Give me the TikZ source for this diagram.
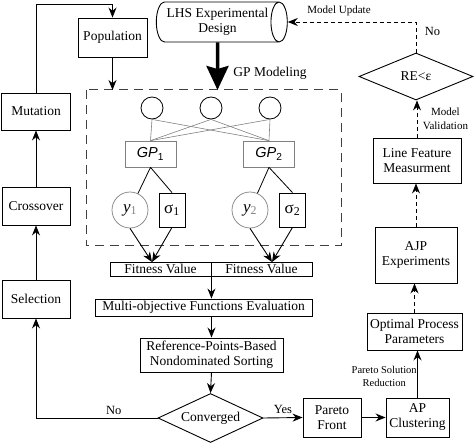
\documentclass[tikz,border=0pt]{standalone}
\usepackage{fontspec}
\setmainfont{Liberation Serif}
\setsansfont{Liberation Sans}
\usetikzlibrary{shapes.geometric, positioning, arrows.meta}

\begin{document}
\begin{tikzpicture}[x=1pt,y=-1pt,
    box/.style={draw,line width=0.9pt,align=center,inner sep=0pt,font=\fontsize{13.5}{15}\selectfont},
    gpbox/.style={draw=gray,line width=0.7pt,inner sep=0pt,minimum width=51,minimum height=26,font=\fontsize{14.5}{15}\selectfont},
    ycirc/.style={circle,draw=gray,line width=0.7pt,inner sep=0pt,minimum size=36,font=\fontsize{17}{17}\selectfont},
    sbox/.style={draw,line width=0.8pt,inner sep=0pt,minimum width=26,minimum height=34,font=\fontsize{17}{17}\selectfont},
    incirc/.style={circle,draw,line width=0.8pt,inner sep=0pt,minimum size=22},
    decide/.style={diamond,draw,line width=0.9pt,inner sep=0pt,aspect=2.2,font=\fontsize{13.5}{15}\selectfont},
    small/.style={font=\fontsize{11}{14}\selectfont,align=center},
    arr/.style={-{Stealth[length=10pt,width=8pt]},line width=0.9pt},
    dasharr/.style={-{Stealth[length=10pt,width=8pt]},line width=0.9pt,dash pattern=on 4pt off 3pt}]
  \useasboundingbox (0,0) rectangle (475,444);
  % left loop of the genetic algorithm
  \node[box,minimum width=69,minimum height=37] (mut) at (36,111.5) {Mutation};
  \node[box,minimum width=68,minimum height=38] (cro) at (36,206) {Crossover};
  \node[box,minimum width=68,minimum height=38] (sel) at (36,299) {Selection};
  \node[box,minimum width=69,minimum height=39] (pop) at (112.5,37.5) {Population};
  \node[box,shape=cylinder,aspect=0.6,minimum height=131,minimum width=40] (lhs) at (217.5,22) {LHS Experimental\\Design};
  \coordinate (topbend) at (112.5,4);
  \coordinate (gptop1) at (112.5,90);
  \coordinate (gptop2) at (217.5,90);
  % GP modeling block
  \draw[line width=1pt,draw=black!75,dash pattern=on 9pt off 6pt] (86,90) rectangle (341,246);
  \node[font=\fontsize{13.5}{15}\selectfont] (gplab) at (270,73) {GP Modeling};
  \node[incirc] (c1) at (152,108) {};
  \node[incirc] (c2) at (211,108) {};
  \node[incirc] (c3) at (270,108) {};
  \node[gpbox] (gp1) at (150.5,154) {\sffamily\itshape GP\textsubscript{\upshape 1}};
  \node[gpbox] (gp2) at (269,154) {\sffamily\itshape GP\textsubscript{\upshape 2}};
  \foreach \c in {c1,c2,c3}{
    \draw[gray,line width=0.6pt] (\c.south) -- (gp1.north) (\c.south) -- (gp2.north);
  }
  \node[ycirc] (y1) at (130,210) {\itshape y\textsubscript{\upshape\color{gray}1}};
  \node[sbox] (s1) at (172,210) {σ\textsubscript{1}};
  \node[ycirc] (y2) at (250,210) {\itshape y\textsubscript{\upshape\color{gray}2}};
  \node[sbox] (s2) at (292.5,210) {σ\textsubscript{2}};
  \draw[line width=0.8pt] (gp1.south) -- (y1) (gp1.south) -- (s1.north);
  \draw[line width=0.8pt] (gp2.south) -- (y2) (gp2.south) -- (s2.north);
  % evaluation and sorting
  \node[box,minimum width=101,minimum height=14] (fit1) at (160.5,269) {Fitness Value};
  \node[box,minimum width=101,minimum height=14] (fit2) at (261.5,269) {Fitness Value};
  \coordinate (f1) at (152,262);
  \coordinate (f2) at (272,262);
  \draw[arr] (y1.south) -- (f1);
  \draw[arr] (s1.south) -- (f1);
  \draw[arr] (y2.south) -- (f2);
  \draw[arr] (s2.south) -- (f2);
  \node[box,minimum width=217,minimum height=17] (mofe) at (203.5,307.5) {Multi-objective Functions Evaluation};
  \node[box,minimum width=143,minimum height=34] (rpns) at (211.5,355) {Reference-Points-Based\\Nondominated Sorting};
  \node[decide,minimum width=105,minimum height=49] (conv) at (210.5,418) {Converged};
  % right column
  \node[box,minimum width=58,minimum height=39] (pf) at (332,417.5) {Pareto\\Front};
  \node[box,minimum width=63,minimum height=39] (apc) at (417.5,417.5) {AP\\Clustering};
  \node[box,minimum width=95,minimum height=37] (opp) at (414.5,331.5) {Optimal Process\\Parameters};
  \node[box,minimum width=82,minimum height=56] (ajp) at (416,255) {AJP\\Experiments};
  \node[box,minimum width=88,minimum height=45] (lfm) at (417,160.5) {Line Feature\\Measurment};
  \node[decide,minimum width=114,minimum height=47] (re) at (416,76.5) {RE<ε};
  % connectors
  \draw[arr] (mut.north) |- (topbend) -- (pop.north);
  \draw[arr] (sel.north) -- (cro.south);
  \draw[arr] (cro.north) -- (mut.south);
  \draw[arr] (pop.south) -- (gptop1);
  \draw[-{Stealth[length=24pt,width=22pt,inset=3pt]},line width=3.5pt] (lhs.south) -- (gptop2);
  \draw[arr] (fit1.south east) -- (fit1.south east |- mofe.north);
  \draw[arr] (rpns.north |- mofe.south) -- (rpns.north);
  \draw[arr] (rpns.south) -- (conv.north);
  \draw[arr] (conv.west) -| node[pos=0.18,above,font=\fontsize{12.5}{14}\selectfont] {No} (sel.south);
  \draw[arr] (conv.east) -- node[above,font=\fontsize{12.5}{14}\selectfont] {Yes} (pf.west);
  \draw[arr] (pf.east) -- (apc.west);
  \draw[arr] (apc.north) -- node[left,small,font=\fontsize{10.5}{13}\selectfont,pos=0.45,xshift=3pt] {Pareto Solution\\Reduction} (apc.north |- opp.south);
  \draw[dasharr] (opp.north) -- (opp.north |- ajp.south);
  \draw[dasharr] (ajp.north) -- (ajp.north |- lfm.south);
  \draw[dasharr] (lfm.north) -- node[right,small,xshift=2pt] {Model\\Validation} (lfm.north |- re.south);
  \draw[dasharr] (re.north) |- node[pos=0.3,right,font=\fontsize{12.5}{14}\selectfont,xshift=5pt,yshift=3pt] {No} node[pos=0.8,above,small,yshift=2pt] {Model Update} (lhs.east);
\end{tikzpicture}
\end{document}
